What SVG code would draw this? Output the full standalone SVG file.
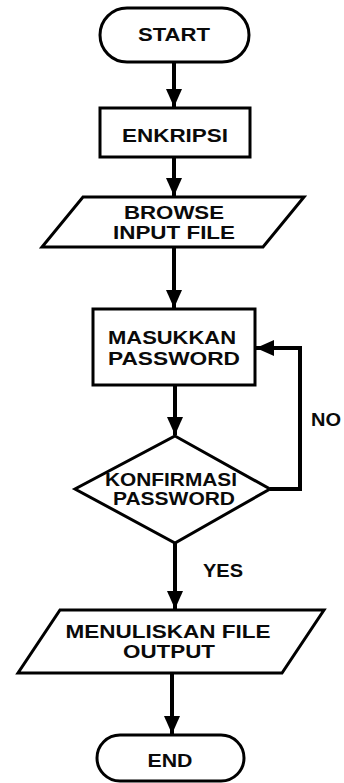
<svg xmlns="http://www.w3.org/2000/svg" width="344" height="783" viewBox="0 0 344 783">
  <style>
    .shape { fill: #fff; stroke: #000; stroke-width: 3; stroke-linejoin: miter; }
    .link { fill: none; stroke: #000; stroke-width: 4; }
    .lbl { font-family: "Liberation Sans", Arial, sans-serif; font-weight: bold; font-size: 19px; fill: #0a0a0a; text-anchor: middle; }
    .sm { font-size: 18px; }
  </style>
  <defs>
    <marker id="head" markerUnits="userSpaceOnUse" markerWidth="18" markerHeight="16" refX="18" refY="8" orient="auto">
      <path d="M0,0 L18,8 L0,16 z" fill="#000"/>
    </marker>
  </defs>
  <rect width="344" height="783" fill="#fff"/>

  <g id="connectors">
    <line class="link" x1="174" y1="62" x2="174" y2="107" marker-end="url(#head)"/>
    <line class="link" x1="174" y1="157" x2="174" y2="196" marker-end="url(#head)"/>
    <line class="link" x1="174" y1="247" x2="174" y2="308" marker-end="url(#head)"/>
    <line class="link" x1="175" y1="385" x2="175" y2="435" marker-end="url(#head)"/>
    <line class="link" x1="175" y1="543" x2="175" y2="609" marker-end="url(#head)"/>
    <line class="link" x1="172" y1="673" x2="172" y2="734" marker-end="url(#head)"/>
    <polyline class="link" points="270,489 300,489 300,348 256,348" marker-end="url(#head)"/>
    <text class="lbl" x="326" y="426" textLength="30" lengthAdjust="spacingAndGlyphs">NO</text>
    <text class="lbl" x="223" y="577" textLength="40" lengthAdjust="spacingAndGlyphs">YES</text>
  </g>

  <g id="start">
    <rect class="shape" x="100" y="8" width="149" height="54" rx="27"/>
    <text class="lbl" x="174" y="41" textLength="72" lengthAdjust="spacingAndGlyphs">START</text>
  </g>

  <g id="enkripsi">
    <rect class="shape" x="100" y="108" width="150" height="49"/>
    <text class="lbl" x="175" y="142" textLength="106" lengthAdjust="spacingAndGlyphs">ENKRIPSI</text>
  </g>

  <g id="browse">
    <polygon class="shape" points="83,197 304,197 263,247 42,247"/>
    <text class="lbl" x="174" y="219" textLength="100" lengthAdjust="spacingAndGlyphs">BROWSE</text>
    <text class="lbl" x="174" y="239" textLength="122" lengthAdjust="spacingAndGlyphs">INPUT FILE</text>
  </g>

  <g id="masukkan">
    <rect class="shape" x="93" y="309" width="162" height="76"/>
    <text class="lbl" x="172" y="344" textLength="128" lengthAdjust="spacingAndGlyphs">MASUKKAN</text>
    <text class="lbl" x="174" y="365" textLength="132" lengthAdjust="spacingAndGlyphs">PASSWORD</text>
  </g>

  <g id="konfirmasi">
    <polygon class="shape" points="175,436 270,489 175,543 75,489"/>
    <text class="lbl sm" x="171" y="486" textLength="132" lengthAdjust="spacingAndGlyphs">KONFIRMASI</text>
    <text class="lbl sm" x="174" y="505" textLength="122" lengthAdjust="spacingAndGlyphs">PASSWORD</text>
  </g>

  <g id="menuliskan">
    <polygon class="shape" points="60,610 324,610 282,673 18,673"/>
    <text class="lbl" x="168" y="638" textLength="205" lengthAdjust="spacingAndGlyphs">MENULISKAN FILE</text>
    <text class="lbl" x="169" y="658" textLength="92" lengthAdjust="spacingAndGlyphs">OUTPUT</text>
  </g>

  <g id="end">
    <rect class="shape" x="97" y="735" width="147" height="46" rx="23"/>
    <text class="lbl" x="170" y="767" textLength="45" lengthAdjust="spacingAndGlyphs">END</text>
  </g>
</svg>
